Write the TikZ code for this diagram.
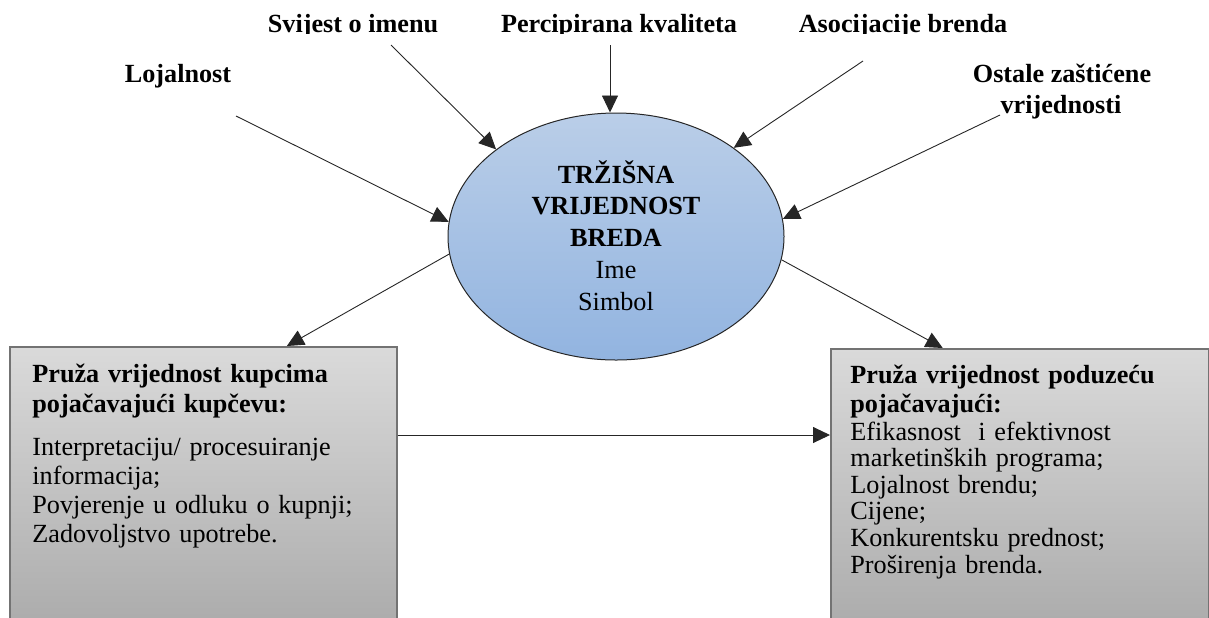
\documentclass[tikz,border=0pt]{standalone}
\usepackage{fontspec}
\setmainfont{Liberation Serif}
\usetikzlibrary{shapes.geometric,arrows.meta,calc}
\definecolor{plavaGore}{HTML}{BACEE8}
\definecolor{plavaDolje}{HTML}{92B4E0}
\definecolor{sivaGore}{HTML}{DADADA}
\definecolor{sivaDolje}{HTML}{A8A8A8}
\tikzset{
	strelica/.style={draw=black!85, line width=0.45pt, -{Triangle[length=8.5pt,width=8pt]}},
	natpis/.style={font=\fontsize{13.1}{15}\selectfont\bfseries, inner sep=0pt, anchor=base},
	kutija/.style={draw=black!55, line width=0.8pt, top color=sivaGore, bottom color=sivaDolje, anchor=north west, inner sep=0pt},
	tekst/.style={font=\fontsize{13.1}{14.65}\selectfont, align=left, anchor=base west, inner sep=0pt, text width=180pt},
}

\begin{document}
\begin{tikzpicture}[x=0.5pt, y=-0.5pt]
	\useasboundingbox (0,0) rectangle (1209,617);
	% elipsa u sredini
	\node[ellipse, draw=black!85, line width=0.5pt, minimum width=168pt, minimum height=123.5pt, inner sep=0pt, top color=plavaGore, bottom color=plavaDolje] (trz) at (616,236.5) {};
	\node[font=\fontsize{13.1}{15.9}\selectfont, align=center, text width=120pt, anchor=base, inner sep=0pt] (trztekst) at (616,183) {\textbf{TRŽIŠNA}\\ \textbf{VRIJEDNOST}\\ \textbf{BREDA}\\ Ime\\ Simbol};
	% natpisi gore
	\begin{scope}
		\clip (0,0) rectangle (1209,33.5);
		\node[natpis] (svijest) at (353,32) {Svijest o imenu};
		\node[natpis] (kvaliteta) at (619,32) {Percipirana kvaliteta};
		\node[natpis] (asocijacije) at (903,32) {Asocijacije brenda};
	\end{scope}
	\node[natpis] (lojalnost) at (178,82) {Lojalnost};
	\node[natpis] (ostale) at (1062,82) {Ostale zaštićene};
	\node[natpis] (vrijednosti) at (1061,113) {vrijednosti};
	% kutije dolje
	\node[kutija, minimum width=193.5pt, minimum height=150pt] (lijevo) at (9,346) {};
	\node[kutija, minimum width=189pt, minimum height=150pt] (desno) at (830,348) {};
	\node[tekst, font=\fontsize{13.1}{15}\selectfont\bfseries] (lnaslov) at (32,382) {Pruža vrijednost kupcima\\pojačavajući kupčevu:};
	\node[tekst] (lpopis) at (32,455) {Interpretaciju/ procesuiranje\\informacija;\\Povjerenje u odluku o kupnji;\\Zadovoljstvo upotrebe.};
	\node[tekst, font=\fontsize{13.1}{14.5}\selectfont\bfseries] (dnaslov) at (850,383) {Pruža vrijednost poduzeću\\pojačavajući:};
	\node[tekst, font=\fontsize{13.1}{13.3}\selectfont] (dpopis) at (850,440) {Efikasnost\ \ i efektivnost\\marketinških programa;\\Lojalnost brendu;\\Cijene;\\Konkurentsku prednost;\\Proširenja brenda.};
	% strelice
	\coordinate (pLoj) at (236,116);
	\coordinate (pSvi) at (391,45);
	\coordinate (pKva) at (610,45);
	\coordinate (pAso) at (863,61);
	\coordinate (pOst) at (1000,115);
	\draw[strelica] (pLoj) -- (trz.175);
	\draw[strelica] (pSvi) -- (trz.144);
	\draw[strelica] (pKva) -- (trz.north -| pKva);
	\draw[strelica] (pAso) -- (trz.37);
	\draw[strelica] (pOst) -- (trz.6);
	\draw[strelica] (trz.186) -- ($(lijevo.north west)!0.715!(lijevo.north east)$);
	\draw[strelica] (trz.352) -- ($(desno.north west)!0.297!(desno.north east)$);
	\draw[strelica] ($(lijevo.north east)+(0,89)$) -- ($(desno.north west)+(0,87)$);
\end{tikzpicture}
\end{document}
